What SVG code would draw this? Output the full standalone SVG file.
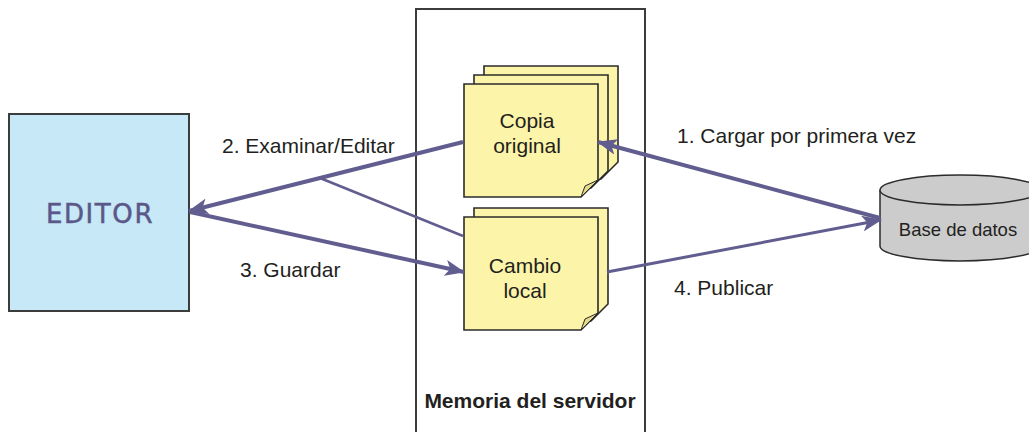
<svg xmlns="http://www.w3.org/2000/svg" width="1029" height="432" viewBox="0 0 1029 432">
<style>
.lbl{font-family:"Liberation Sans",Arial,sans-serif;font-size:21px;fill:#231f20}
.note{fill:#fcf4a8;stroke:#2b2b2b;stroke-width:1.6;stroke-linejoin:miter}
.fold{fill:#e6da8c;stroke:#2b2b2b;stroke-width:1}
.conn{stroke:#625d8f;fill:none;stroke-linecap:butt}
</style>
<defs>
<marker id="ah" markerUnits="userSpaceOnUse" viewBox="0 0 20 16" markerWidth="20" markerHeight="16" refX="19" refY="8" orient="auto">
<path d="M0,0 L20,8 L0,16 L5,8 Z" fill="#625d8f"/>
</marker>
<path id="sheet" d="M0,0 H134 V96 L117,113 H0 Z"/>
</defs>
<rect width="1029" height="432" fill="#ffffff"/>

<g id="server">
<rect x="416" y="9" width="229" height="440" fill="#ffffff" stroke="#3c3c3c" stroke-width="2"/>
<text class="lbl" x="530" y="408" text-anchor="middle" font-weight="bold">Memoria del servidor</text>
</g>

<g id="editor">
<rect x="9" y="114" width="180" height="197" fill="#c7e8f7" stroke="#3c3c3c" stroke-width="2"/>
<text x="100" y="223" text-anchor="middle" font-family="'DejaVu Sans','Liberation Sans',sans-serif" font-size="26" letter-spacing="1.6" stroke="#5b5889" stroke-width="0.5" fill="#5b5889">EDITOR</text>
</g>

<g id="copia-original">
<use href="#sheet" x="484" y="66" class="note"/>
<use href="#sheet" x="474" y="75" class="note"/>
<use href="#sheet" x="464" y="84" class="note"/>
<path class="fold" d="M581,197 L585,186 L598,180 Z"/>
<text class="lbl" x="527" y="128" text-anchor="middle">Copia</text>
<text class="lbl" x="527" y="153" text-anchor="middle">original</text>
</g>

<g id="cambio-local">
<use href="#sheet" x="474" y="208" class="note"/>
<use href="#sheet" x="464" y="217" class="note"/>
<path class="fold" d="M581,330 L585,319 L598,313 Z"/>
<text class="lbl" x="525" y="273" text-anchor="middle">Cambio</text>
<text class="lbl" x="525" y="298" text-anchor="middle">local</text>
</g>

<g id="base-de-datos">
<path d="M880,190 V246 A80,15 0 0 0 1040,246 V190" fill="#cccccc" stroke="#2b2b2b" stroke-width="1.5"/>
<ellipse cx="960" cy="190" rx="80" ry="15" fill="#cccccc" stroke="#2b2b2b" stroke-width="1.5"/>
<text x="958" y="236" text-anchor="middle" font-family="'Liberation Sans',Arial,sans-serif" font-size="18.5" fill="#231f20">Base de datos</text>
</g>

<g id="connectors">
<line class="conn" x1="463" y1="142" x2="189" y2="211" stroke-width="4" marker-end="url(#ah)"/>
<line class="conn" x1="320" y1="178" x2="463" y2="236" stroke-width="2.5"/>
<line class="conn" x1="190" y1="212" x2="464" y2="272" stroke-width="4" marker-end="url(#ah)"/>
<line class="conn" x1="880" y1="218" x2="598" y2="142" stroke-width="4" marker-end="url(#ah)"/>
<line class="conn" x1="607" y1="272" x2="881" y2="220" stroke-width="3" marker-end="url(#ah)"/>
</g>

<g id="labels">
<text class="lbl" x="222" y="153">2. Examinar/Editar</text>
<text class="lbl" x="240" y="277">3. Guardar</text>
<text class="lbl" x="677" y="143">1. Cargar por primera vez</text>
<text class="lbl" x="674" y="295">4. Publicar</text>
</g>
</svg>
